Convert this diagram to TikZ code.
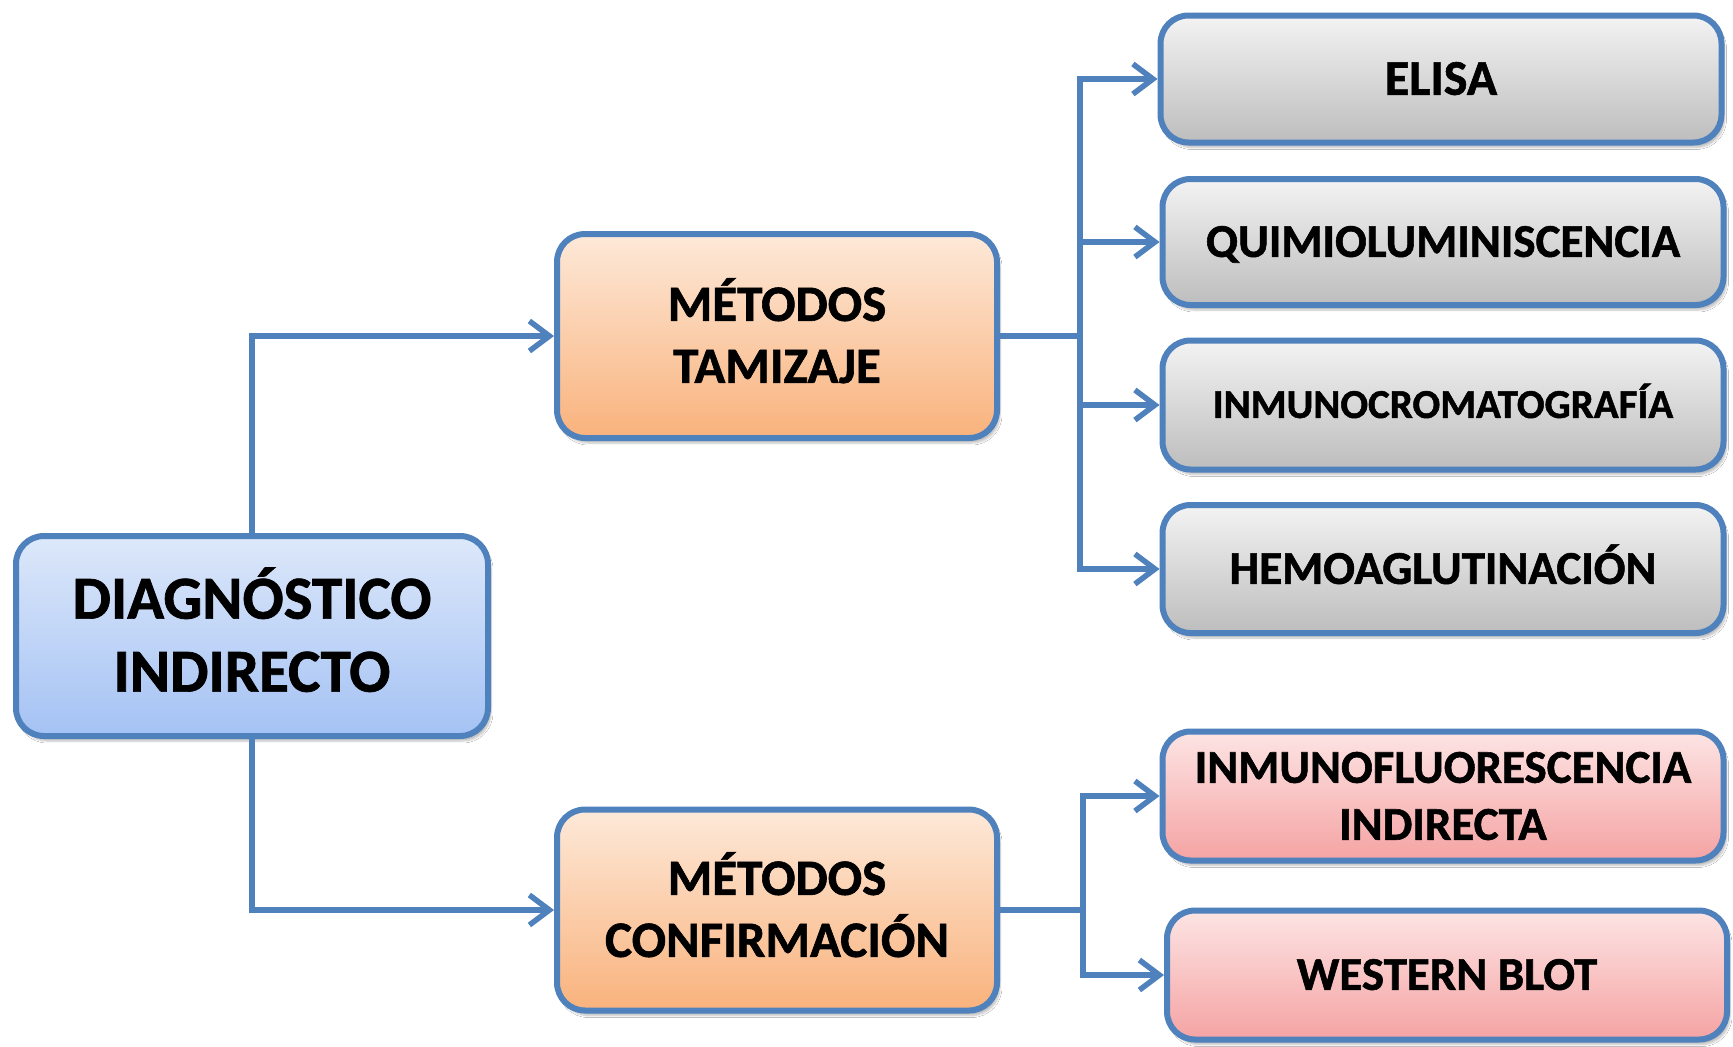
\documentclass[tikz,border=0pt]{standalone}
\usepackage{fontspec}
\setmainfont{Carlito}[BoldFeatures={FakeBold=1.2}]
\usetikzlibrary{arrows.meta,shadows.blur}
\definecolor{linec}{HTML}{4F81BD}
\definecolor{blueT}{HTML}{DDE8FA}
\definecolor{blueB}{HTML}{A4C2F4}
\definecolor{orT}{HTML}{FDE9D9}
\definecolor{orB}{HTML}{F9B27C}
\definecolor{grT}{HTML}{F3F3F3}
\definecolor{grB}{HTML}{BDBDBD}
\definecolor{pkT}{HTML}{FDE4E4}
\definecolor{pkB}{HTML}{F5A3A3}
\tikzset{
  box/.style={draw=linec, line width=6pt, rounded corners=28pt, align=center,
    inner sep=0pt, text=black,
    blur shadow={shadow xshift=3pt, shadow yshift=-5pt, shadow blur steps=6, shadow opacity=25}},
  bluebox/.style={box, top color=blueT, bottom color=blueB},
  orbox/.style={box, top color=orT, bottom color=orB},
  grbox/.style={box, top color=grT, bottom color=grB},
  pkbox/.style={box, top color=pkT, bottom color=pkB},
  conn/.style={draw=linec, line width=5.5pt},
  arr/.style={conn, -{Straight Barb[length=20pt,width=30pt,line width=5.5pt]}},
  fA/.style={font=\bfseries\fontsize{61}{73}\selectfont},
  fB/.style={font=\bfseries\fontsize{51}{62}\selectfont},
  fC/.style={font=\bfseries\fontsize{47}{57}\selectfont},
}
\begin{document}
\begin{tikzpicture}[x=1pt,y=-1pt]
\useasboundingbox[fill=white] (0,0) rectangle (1733,1047);
\node[bluebox, fA, minimum width=472pt, minimum height=200pt] (diag) at (252,636) {DIAGNÓSTICO\\INDIRECTO\\[-60pt]\mbox{}};
\node[orbox, fB, minimum width=440pt, minimum height=204pt] (tam) at (777,336) {MÉTODOS\\TAMIZAJE\\[-51pt]\mbox{}};
\node[orbox, fB, minimum width=440pt, minimum height=201pt] (conf) at (777,910) {MÉTODOS\\CONFIRMACIÓN\\[-51pt]\mbox{}};
\node[grbox, font=\bfseries\fontsize{50}{60}\selectfont, text height=31.6pt, text depth=0pt, minimum width=561pt, minimum height=127pt] (elisa) at (1441,79) {ELISA};
\node[grbox, fC, text height=29.7pt, text depth=0pt, minimum width=561pt, minimum height=126pt] (quim) at (1443,242) {QUIMIOLUMINISCENCIA};
\node[grbox, font=\bfseries\fontsize{41}{50}\selectfont, text height=25.9pt, text depth=0pt, minimum width=561pt, minimum height=129pt] (inmc) at (1443,405) {INMUNOCROMATOGRAFÍA};
\node[grbox, fC, text height=29.7pt, text depth=0pt, minimum width=561pt, minimum height=128pt] (hemo) at (1443,569) {HEMOAGLUTINACIÓN};
\node[pkbox, fC, minimum width=561pt, minimum height=129pt] (inmf) at (1443,796) {INMUNOFLUORESCENCIA\\INDIRECTA};
\node[pkbox, fC, text height=29.7pt, text depth=0pt, minimum width=560pt, minimum height=129pt] (west) at (1447,975) {WESTERN BLOT};
\coordinate (tj) at (1080,336);
\coordinate (cj) at (1083,910);
\draw[arr] (diag.north) |- (tam.west);
\draw[arr] (diag.south) |- (conf.west);
\draw[conn] (tam.east) -- (tj);
\draw[arr] (tj) |- (elisa.west);
\draw[arr] (tj) |- (quim.west);
\draw[arr] (tj) |- (inmc.west);
\draw[arr] (tj) |- (hemo.west);
\draw[conn] (conf.east) -- (cj);
\draw[arr] (cj) |- (inmf.west);
\draw[arr] (cj) |- (west.west);
\end{tikzpicture}
\end{document}
